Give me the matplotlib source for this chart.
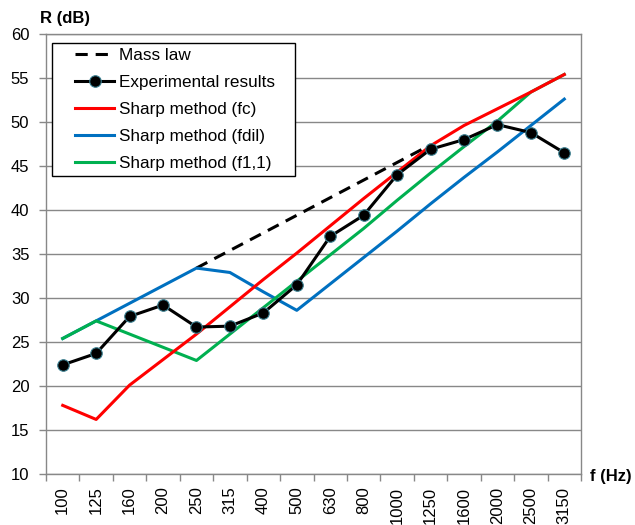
import matplotlib
matplotlib.use("Agg")
import matplotlib.pyplot as plt
from matplotlib.patches import Rectangle
import numpy as np

plt.rcParams['font.family'] = ['Liberation Sans', 'DejaVu Sans']

freqs = ["100", "125", "160", "200", "250", "315", "400", "500", "630", "800",
         "1000", "1250", "1600", "2000", "2500", "3150"]

mass_law = [None, None, None, None, 33.4, 35.4, 37.4, 39.4, 41.4, 43.4,
            45.4, 47.4, None, None, None, None]
experimental = [22.4, 23.7, 27.9, 29.2, 26.7, 26.8, 28.3, 31.5, 37.0, 39.4,
                44.0, 46.9, 48.0, 49.7, 48.8, 46.5]
sharp_fc = [17.8, 16.2, 20.1, 23.0, 25.9, 29.0, 32.1, 35.1, 38.2, 41.3,
            44.3, 47.3, 49.6, 51.5, 53.4, 55.4]
sharp_fdil = [25.4, 27.4, 29.4, 31.4, 33.4, 32.9, 30.7, 28.6, 31.6, 34.6,
              37.6, 40.7, 43.7, 46.6, 49.6, 52.6]
sharp_f11 = [25.4, 27.4, 25.9, 24.4, 22.9, 25.9, 28.9, 31.9, 34.9, 37.9,
             41.1, 44.2, 47.2, 50.1, 53.4, 55.4]

yticks = [10, 15, 20, 25, 30, 35, 40, 45, 50, 55, 60]

W, H = 635, 525
fig = plt.figure(figsize=(6.35, 5.25), dpi=100)
ax = fig.add_axes([46/W, 1-474/H, 535/W, 440/H])

x = np.arange(len(freqs))
ml = np.array([np.nan if v is None else v for v in mass_law], dtype=float)

ax.plot(x, ml, color='black', lw=2.2, dashes=(4, 2.6), label='Mass law', zorder=3)
ax.plot(x, experimental, color='black', lw=2.2, marker='o', markersize=8.3,
        markerfacecolor='black', markeredgecolor='#3a7f90', markeredgewidth=0.8,
        label='Experimental results', zorder=6)
ax.plot(x, sharp_fc, color='#FF0000', lw=2.2, label='Sharp method (fc)', zorder=5)
ax.plot(x, sharp_fdil, color='#0070C0', lw=2.2, label='Sharp method (fdil)', zorder=4)
ax.plot(x, sharp_f11, color='#00B050', lw=2.2, label='Sharp method (f1,1)', zorder=4)

ax.set_xlim(-0.5, len(freqs) - 0.5)
ax.set_ylim(10, 60)
ax.set_yticks(yticks)
ax.set_yticklabels([str(t) for t in yticks], fontsize=12)
ax.set_xticks(x)
ax.set_xticklabels(freqs, rotation=90, fontsize=12)
ax.set_xticks(np.arange(-0.5, len(freqs)), minor=True)
ax.tick_params(axis='x', which='major', length=0, pad=9)
ax.tick_params(axis='x', which='minor', length=5, color='#888888', width=1)
ax.tick_params(axis='y', which='major', length=5, color='#888888', width=1, pad=7)

ax.grid(axis='y', color='#888888', lw=1)
ax.set_axisbelow(True)
for s in ax.spines.values():
    s.set_color('#888888')
    s.set_linewidth(1)

# legend frame (Excel-style wide box)
ax.add_patch(Rectangle(((52-46)/535, 1-(176-34)/440), 243/535, 133/440,
                       transform=ax.transAxes, facecolor='white', edgecolor='black',
                       lw=1, zorder=7, clip_on=False))

leg = ax.legend(loc='upper left', bbox_to_anchor=((75-46)/535, 1-(48-34)/440),
                borderaxespad=0, borderpad=0, fontsize=12.3, frameon=False,
                handlelength=2.3, handletextpad=0.25, labelspacing=0.7)
leg.set_zorder(8)

fig.text(40/W, 1-18/H, 'R (dB)', fontsize=12, fontweight='bold', va='center', ha='left')
fig.text(590/W, 1-476/H, 'f (Hz)', fontsize=12, fontweight='bold', va='center', ha='left')

fig.savefig('out.png', dpi=100)
